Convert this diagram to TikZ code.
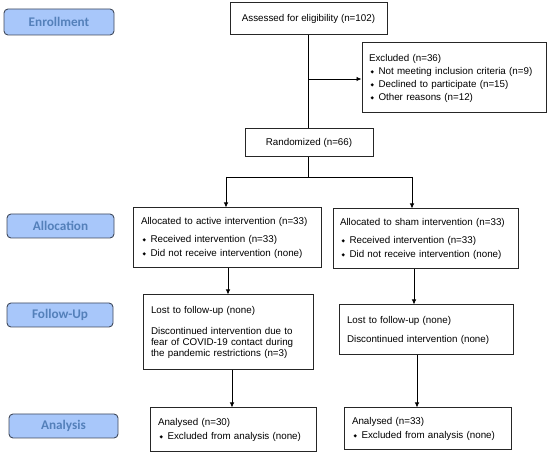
\documentclass[tikz,border=0pt]{standalone}
\usepackage{fontspec}
\setmainfont{Liberation Sans}
\newfontfamily\carlito{Carlito}
\newfontfamily\djv{DejaVu Sans}
\usetikzlibrary{arrows.meta}
\definecolor{lblfill}{RGB}{168,199,250}
\definecolor{lbltext}{RGB}{84,128,186}
\definecolor{lbldraw}{RGB}{64,74,92}
\newcommand{\bul}{\hspace*{1.5pt}\makebox[8pt][l]{\raisebox{0.7pt}{\djv\fontsize{4.5}{5}\selectfont ◆}}}
\tikzset{
  phase/.style={draw=lbldraw, line width=0.9pt, fill=lblfill, rounded corners=4pt,
    text=lbltext, font=\carlito\bfseries\fontsize{13.2}{15}\selectfont, inner sep=0pt},
  box/.style={draw=black!85, line width=1pt, inner sep=0pt, align=left,
    font=\fontsize{9.8}{11}\selectfont},
  cbox/.style={box, align=center},
  arr/.style={line width=0.8pt, -{Latex[length=5pt,width=4.5pt]}},
  ln/.style={line width=0.8pt}
}
\begin{document}
\begin{tikzpicture}[x=1pt,y=-1pt]
\useasboundingbox (0,0) rectangle (550,457);
% phase labels
\node[phase, minimum width=110pt, minimum height=26pt] (enr) at (59,22) {Enrollment};
\node[phase, minimum width=107pt, minimum height=24pt] (all) at (60.5,226) {Allocation};
\node[phase, minimum width=106pt, minimum height=24pt] (fol) at (60,315) {Follow-Up};
\node[phase, minimum width=109pt, minimum height=24pt] (ana) at (63.5,426) {Analysis};
% boxes
\node[cbox, minimum width=157pt, minimum height=32pt] (ass) at (308.5,19) {Assessed for eligibility (n=102)};
\node[box, minimum width=184pt, minimum height=70pt, text width=170pt] (exc) at (454,78)
  {Excluded (n=36)\\[2pt]
   \bul Not meeting inclusion criteria (n=9)\\[2pt]
   \bul Declined to participate (n=15)\\[2pt]
   \bul Other reasons (n=12)};
\node[cbox, minimum width=128pt, minimum height=28pt] (ran) at (309,143) {Randomized (n=66)};
\node[box, minimum width=188pt, minimum height=60pt, text width=172pt] (al1) at (227,238)
  {Allocated to active intervention (n=33)\\[7pt]
   \bul Received intervention (n=33)\\[3pt]
   \bul Did not receive intervention (none)};
\node[box, minimum width=185pt, minimum height=60pt, text width=171pt] (al2) at (425.5,239)
  {Allocated to sham intervention (n=33)\\[7pt]
   \bul Received intervention (n=33)\\[3pt]
   \bul Did not receive intervention (none)};
\node[box, minimum width=170pt, minimum height=75pt, text width=154pt] (fu1) at (228,332.5)
  {Lost to follow-up (none)\\[10pt]
   Discontinued intervention due to\\
   fear of COVID-19 contact during\\
   the pandemic restrictions (n=3)};
\node[box, minimum width=174pt, minimum height=50pt, text width=158pt] (fu2) at (426,330)
  {Lost to follow-up (none)\\[8pt]
   Discontinued intervention (none)};
\node[box, minimum width=166pt, minimum height=44pt, text width=150pt] (an1) at (233,430)
  {Analysed (n=30)\\[3pt]
   \bul Excluded from analysis (none)};
\node[box, minimum width=167pt, minimum height=42pt, text width=151pt] (an2) at (427.5,429)
  {Analysed (n=33)\\[3pt]
   \bul Excluded from analysis (none)};
% connectors
\coordinate (split) at (308,79);
\coordinate (fork) at (308,177);
\coordinate (forkL) at (226,177);
\coordinate (forkR) at (412,177);
\draw[ln] (ass.south -| split) -- (ran.north -| split);
\draw[arr] (split) -- (exc.west |- split);
\draw[ln] (ran.south -| fork) -- (fork);
\draw[ln] (forkL) -- (forkR);
\draw[arr] (forkL) -- (al1.north -| forkL);
\draw[arr] (forkR) -- (al2.north -| forkR);
\coordinate (c1) at (228,0);
\coordinate (c2) at (414,0);
\coordinate (c3) at (232,0);
\coordinate (c4) at (417,0);
\draw[arr] (al1.south -| c1) -- (fu1.north -| c1);
\draw[arr] (al2.south -| c2) -- (fu2.north -| c2);
\draw[arr] (fu1.south -| c3) -- (an1.north -| c3);
\draw[arr] (fu2.south -| c4) -- (an2.north -| c4);
\end{tikzpicture}
\end{document}
